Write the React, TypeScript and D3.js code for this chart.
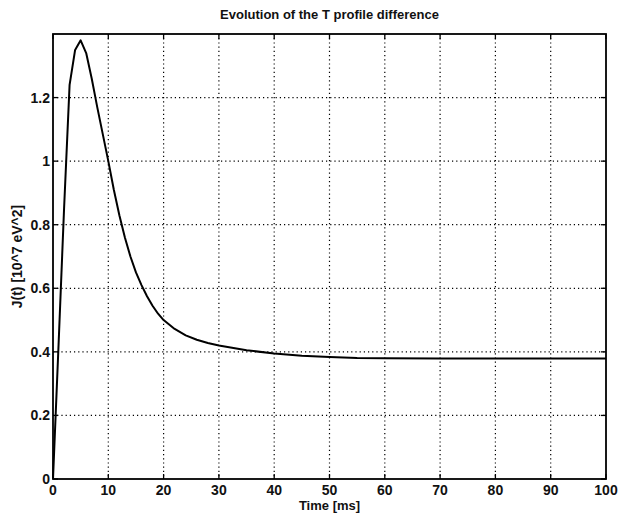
import React from "react";
import * as d3 from "d3";

const timeMs = [0, 1, 2, 3, 4, 5, 6, 7, 8, 9, 10, 11, 12, 13, 14, 15, 16, 17, 18, 19, 20, 22, 24, 26, 28, 30, 35, 40, 45, 50, 55, 60, 70, 80, 90, 100];
const jValues = [0, 0.42, 0.85, 1.24, 1.35, 1.38, 1.34, 1.26, 1.17, 1.085, 1.0, 0.91, 0.83, 0.76, 0.7, 0.65, 0.61, 0.575, 0.545, 0.52, 0.5, 0.472, 0.452, 0.438, 0.428, 0.42, 0.405, 0.395, 0.388, 0.384, 0.381, 0.38, 0.379, 0.379, 0.379, 0.379];
const xTicks = [0, 10, 20, 30, 40, 50, 60, 70, 80, 90, 100];
const yTicks = [0, 0.2, 0.4, 0.6, 0.8, 1, 1.2];
const title = "Evolution of the T profile difference";
const xLabel = "Time [ms]";
const yLabel = "J(t) [10^7 eV^2]";

export default function App() {
  const W = 619, H = 517;
  const L = 53, R = 606, T = 34, B = 479;
  const x = d3.scaleLinear().domain([0, 100]).range([L, R]);
  const y = d3.scaleLinear().domain([0, 1.4]).range([B, T]);
  const pts: [number, number][] = timeMs.map((t, i) => [t, jValues[i]]);
  const line = d3.line<[number, number]>().x(d => x(d[0])).y(d => y(d[1]));
  const font = "'Liberation Sans', Arial, Helvetica, sans-serif";
  const tickLen = 5;
  return (
    <svg width={W} height={H} style={{ position: "absolute", left: 0, top: 0, background: "#fff" }} fontFamily={font}>
      <rect x={0} y={0} width={W} height={H} fill="#fff" />
      {xTicks.filter(t => t > 0 && t < 100).map(t => (
        <line key={"gx" + t} x1={x(t)} x2={x(t)} y1={T} y2={B} stroke="#000" strokeWidth={1.2} strokeDasharray="1.2,3" />
      ))}
      {yTicks.filter(t => t > 0).map(t => (
        <line key={"gy" + t} x1={L} x2={R} y1={y(t)} y2={y(t)} stroke="#000" strokeWidth={1.2} strokeDasharray="1.2,3" />
      ))}
      {xTicks.map(t => (
        <g key={"tx" + t}>
          <line x1={x(t)} x2={x(t)} y1={B} y2={B - tickLen} stroke="#000" strokeWidth={1.3} />
          <line x1={x(t)} x2={x(t)} y1={T} y2={T + tickLen} stroke="#000" strokeWidth={1.3} />
          <text x={x(t)} y={B + 16} textAnchor="middle" fontSize={14} fontWeight="bold" fill="#111">{t}</text>
        </g>
      ))}
      {yTicks.map(t => (
        <g key={"ty" + t}>
          <line x1={L} x2={L + tickLen} y1={y(t)} y2={y(t)} stroke="#000" strokeWidth={1.3} />
          <line x1={R} x2={R - tickLen} y1={y(t)} y2={y(t)} stroke="#000" strokeWidth={1.3} />
          <text x={L - 3} y={y(t) + 5} textAnchor="end" fontSize={14} fontWeight="bold" fill="#111">{t}</text>
        </g>
      ))}
      <rect x={L} y={T} width={R - L} height={B - T} fill="none" stroke="#000" strokeWidth={1.8} />
      <path d={line(pts) || ""} fill="none" stroke="#000" strokeWidth={2} strokeLinejoin="round" />
      <text x={(L + R) / 2} y={19} textAnchor="middle" fontSize={13} fontWeight="bold" fill="#111">{title}</text>
      <text x={(L + R) / 2} y={510} textAnchor="middle" fontSize={13} fontWeight="bold" fill="#111">{xLabel}</text>
      <text transform={`translate(22,${(T + B) / 2}) rotate(-90)`} textAnchor="middle" fontSize={14} fontWeight="bold" fill="#111">{yLabel}</text>
    </svg>
  );
}
